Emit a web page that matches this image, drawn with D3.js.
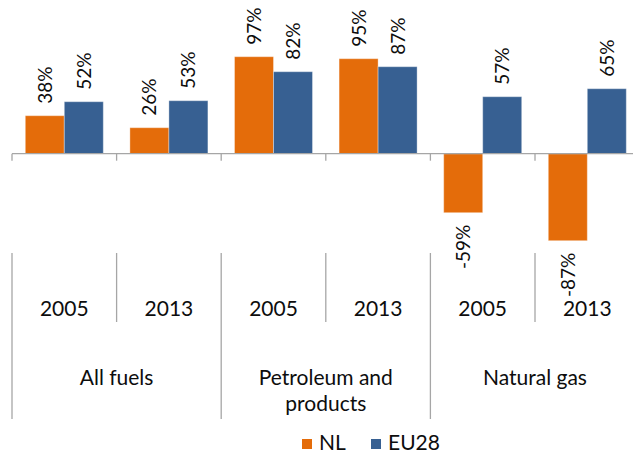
<!DOCTYPE html>
<html>
<head>
  <meta charset="utf-8" />
  <title>Import dependency NL vs EU28</title>
  <style>
    body { margin: 0; background: #fff; }
    svg { display: block; font-family: Lato, "Open Sans", sans-serif; }
    .grid line { stroke: #a6a6a6; stroke-width: 1.3px; }
  </style>
</head>
<body>
  <svg></svg>
  <script src="https://d3js.org/d3.v7.min.js"></script>
  <script>
    var width = 633,
      height = 453;
    var fontSize = 21;
    var labelSize = 19;

    // data
    var groups = ["All fuels", "Petroleum and products", "Natural gas"];
    var years = ["2005", "2013"];
    var series = ["NL", "EU28"];
    var nlValues = [38, 26, 97, 95, -59, -87];
    var euValues = [52, 53, 82, 87, 57, 65];
    var colors = ["#e46c0a", "#376092"];

    var cats = [];
    groups.forEach(function (g) {
      years.forEach(function (yr) { cats.push(g + "|" + yr); });
    });
    var rows = cats.map(function (c, i) {
      return { cat: c, group: c.split("|")[0], year: c.split("|")[1], NL: nlValues[i], EU28: euValues[i] };
    });

    var svg = d3.select("svg")
      .attr("width", width)
      .attr("height", height);

    var x = d3.scaleBand()
      .domain(cats)
      .range([12, 639.6]);

    var xs = d3.scaleBand()
      .domain(series)
      .range([0, x.bandwidth()])
      .paddingOuter(0.341);

    var y = d3.scaleLinear()
      .domain([-100, 100])
      .range([253.7, 53.7]);

    var color = d3.scaleOrdinal().domain(series).range(colors);

    // bars
    var cat = svg.append("g").selectAll("g")
      .data(rows)
      .enter().append("g")
      .attr("transform", d => "translate(" + x(d.cat) + ",0)");

    cat.selectAll("rect")
      .data(d => series.map(s => ({ key: s, value: d[s] })))
      .enter().append("rect")
      .attr("x", d => xs(d.key))
      .attr("width", xs.bandwidth())
      .attr("y", d => y(Math.max(0, d.value)))
      .attr("height", d => Math.abs(y(d.value) - y(0)))
      .attr("fill", d => color(d.key))
      .attr("stroke", "rgba(255,255,255,0.35)")
      .attr("stroke-width", 1);

    // value labels, rotated
    cat.selectAll("text")
      .data(d => series.map(s => ({ key: s, value: d[s] })))
      .enter().append("text")
      .attr("transform", function (d) {
        var cx = xs(d.key) + xs.bandwidth() / 2 + 7;
        var cy = d.value >= 0 ? y(d.value) - 12 : y(d.value) + 12;
        return "translate(" + cx + "," + cy + ") rotate(-90)";
      })
      .attr("text-anchor", d => d.value >= 0 ? "start" : "end")
      .attr("font-size", labelSize)
      .attr("fill", "#0d0d0d")
      .text(d => d.value + "%");

    // axis line + ticks
    var grid = svg.append("g").attr("class", "grid");
    grid.append("line")
      .attr("x1", 12).attr("x2", width)
      .attr("y1", y(0)).attr("y2", y(0));

    var bounds = cats.map(c => x(c)).concat([x.range()[1]]);
    grid.selectAll(".tick")
      .data(bounds)
      .enter().append("line")
      .attr("x1", d => d).attr("x2", d => d)
      .attr("y1", y(0)).attr("y2", y(0) + 7);

    // separators under the axis: years short, groups long
    grid.selectAll(".sep")
      .data(bounds)
      .enter().append("line")
      .attr("x1", d => d).attr("x2", d => d)
      .attr("y1", 253)
      .attr("y2", (d, i) => i % 2 === 0 ? 419 : 322);

    // year labels
    svg.append("g").selectAll("text")
      .data(rows)
      .enter().append("text")
      .attr("x", d => x(d.cat) + x.bandwidth() / 2)
      .attr("y", 316)
      .attr("text-anchor", "middle")
      .attr("font-size", fontSize)
      .attr("fill", "#0d0d0d")
      .text(d => d.year);

    // group labels, wrapped like the original
    var groupLines = {
      "All fuels": ["All fuels"],
      "Petroleum and products": ["Petroleum and", "products"],
      "Natural gas": ["Natural gas"]
    };
    svg.append("g").selectAll("text")
      .data(groups)
      .enter().append("text")
      .attr("x", (d, i) => x(cats[i * 2]) + x.bandwidth())
      .attr("y", 385)
      .attr("text-anchor", "middle")
      .attr("font-size", fontSize)
      .attr("fill", "#0d0d0d")
      .each(function (d) {
        var t = d3.select(this);
        groupLines[d].forEach(function (line, j) {
          t.append("tspan")
            .attr("x", t.attr("x"))
            .attr("dy", j === 0 ? 0 : 26)
            .text(line);
        });
      });

    // legend
    var legendX = [302, 371];
    var legend = svg.append("g").selectAll("g")
      .data(series)
      .enter().append("g")
      .attr("transform", (d, i) => "translate(" + legendX[i] + ",439)");
    legend.append("rect")
      .attr("width", 10).attr("height", 10)
      .attr("fill", d => color(d));
    legend.append("text")
      .attr("x", 17).attr("y", 10.5)
      .attr("font-size", fontSize)
      .attr("fill", "#0d0d0d")
      .text(d => d);
  </script>
</body>
</html>
